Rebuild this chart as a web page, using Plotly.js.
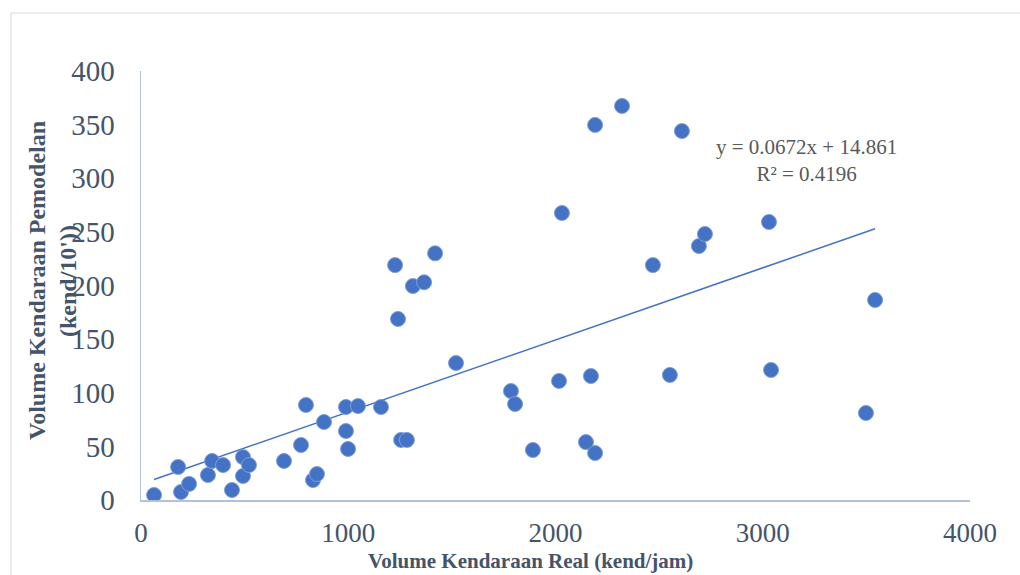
<!DOCTYPE html>
<html>
<head>
<meta charset="utf-8">
<script src="https://cdn.plot.ly/plotly-3.0.1.min.js"></script>
<style>html,body{margin:0;padding:0;background:#fff}#chart{width:1020px;height:575px}</style>
</head>
<body>
<div id="chart"></div>
<script>
// Observed data: real vehicle volume (kend/jam) vs modelled volume (kend/10')
const volumeReal = [63, 179, 193, 232, 323, 343, 396, 439, 492, 492, 521, 690, 772, 796, 830, 849, 883, 989, 989, 999, 1047, 1158, 1226, 1240, 1255, 1283, 1312, 1366, 1419, 1520, 1785, 1805, 1891, 2017, 2031, 2147, 2171, 2191, 2191, 2321, 2470, 2552, 2610, 2692, 2721, 3030, 3040, 3498, 3542];
const volumePemodelan = [4.7, 30.8, 7.5, 15, 23.3, 36.4, 32.6, 9.3, 40, 22.4, 32.6, 36.4, 51.3, 88.6, 18.6, 24.2, 72.7, 86.7, 64.3, 47.6, 87.6, 86.7, 219, 168.8, 56, 56, 199.5, 203, 230, 127.7, 101.6, 89.5, 46.6, 111, 267.6, 54, 115.6, 349.7, 43.8, 367.4, 219, 116.6, 344, 236.8, 248, 259.2, 121.2, 81.1, 186.5];

// Linear trendline as printed on the chart
const trendSlope = 0.0672;
const trendIntercept = 14.861;
const trendR2 = 0.4196;

const xTickVals = [0, 1000, 2000, 3000, 4000];
const yTickVals = [0, 50, 100, 150, 200, 250, 300, 350, 400];

const xTitle = 'Volume Kendaraan Real (kend/jam)';
const yTitleLines = ['Volume Kendaraan Pemodelan', "(kend/10'))"];

const xMin = Math.min(...volumeReal), xMax = Math.max(...volumeReal);
const trendX = [xMin, xMax];
const trendY = trendX.map(v => trendSlope * v + trendIntercept);

const blue = '#4472C4';
const textCol = '#44546A';
const serif = '"Liberation Serif", "Times New Roman", serif';

const traces = [
  {
    x: trendX, y: trendY, type: 'scatter', mode: 'lines',
    line: {color: blue, width: 1.5}, hoverinfo: 'skip', showlegend: false
  },
  {
    x: volumeReal, y: volumePemodelan, type: 'scatter', mode: 'markers',
    marker: {color: blue, size: 15, line: {color: '#7f9fd8', width: 1}},
    showlegend: false
  }
];

const W = 829, H = 429, L = 141, T = 71;
const px = v => (v - L) / W;
const py = v => (T + H - v) / H;

const layout = {
  width: 1020, height: 575,
  paper_bgcolor: '#ffffff', plot_bgcolor: '#ffffff',
  margin: {l: 141, r: 50, t: 71, b: 75},
  font: {family: serif, color: textCol},
  xaxis: {
    range: [0, 4000], tickvals: xTickVals, ticktext: xTickVals.map(String),
    showgrid: false, zeroline: false, showline: true, linecolor: '#B4C2D6', linewidth: 1.5,
    ticks: 'outside', ticklen: 8, tickcolor: 'rgba(0,0,0,0)',
    tickfont: {family: serif, size: 27, color: textCol}
  },
  yaxis: {
    range: [0, 400], tickvals: yTickVals, ticktext: yTickVals.map(String),
    showgrid: false, zeroline: false, showline: true, linecolor: '#B4C2D6', linewidth: 1.5,
    ticks: 'outside', ticklen: 19, tickcolor: 'rgba(0,0,0,0)',
    tickfont: {family: serif, size: 29, color: textCol}
  },
  shapes: [{
    type: 'rect', xref: 'paper', yref: 'paper',
    x0: px(11), x1: px(1030), y0: py(585), y1: py(13),
    line: {color: '#D9DEE6', width: 1.2}, fillcolor: 'rgba(0,0,0,0)', layer: 'below'
  }],
  annotations: [
    {
      xref: 'paper', yref: 'paper', x: px(530), y: py(561),
      text: '<b>' + xTitle + '</b>', showarrow: false,
      font: {family: serif, size: 21, color: textCol}, xanchor: 'center', yanchor: 'middle'
    },
    {
      xref: 'paper', yref: 'paper', x: px(37), y: py(281),
      text: '<b>' + yTitleLines[0] + '</b>', showarrow: false, textangle: -90,
      font: {family: serif, size: 24, color: textCol}, xanchor: 'center', yanchor: 'middle'
    },
    {
      xref: 'paper', yref: 'paper', x: px(68), y: py(281),
      text: '<b>' + yTitleLines[1] + '</b>', showarrow: false, textangle: -90,
      font: {family: serif, size: 24, color: textCol}, xanchor: 'center', yanchor: 'middle'
    },
    {
      xref: 'paper', yref: 'paper', x: px(806), y: py(160),
      text: 'y = ' + trendSlope + 'x + ' + trendIntercept + '<br>R² = ' + trendR2,
      showarrow: false, align: 'center',
      font: {family: serif, size: 21, color: '#595959'}, xanchor: 'center', yanchor: 'middle'
    }
  ]
};

Plotly.newPlot('chart', traces, layout, {displayModeBar: false, staticPlot: true});
</script>
</body>
</html>
